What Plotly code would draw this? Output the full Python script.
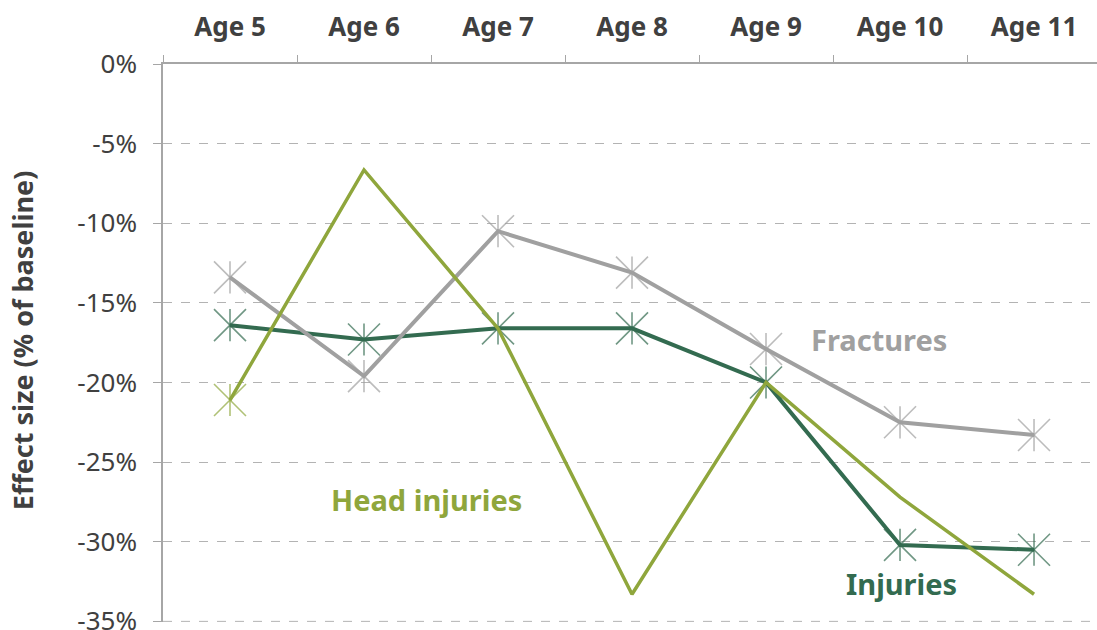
import plotly.graph_objects as go

ages = ["Age 5", "Age 6", "Age 7", "Age 8", "Age 9", "Age 10", "Age 11"]
injuries = [-16.4, -17.3, -16.6, -16.6, -20.0, -30.2, -30.5]
fractures = [-13.4, -19.6, -10.5, -13.1, -17.9, -22.5, -23.3]
head_injuries = [-21.1, -6.65, -16.6, -33.3, -20.0, -27.2, -33.3]
head_marker_shown = [True, False, False, False, False, False, False]

y_ticks = [0, -5, -10, -15, -20, -25, -30, -35]
y_ticktext = ["0%", "-5%", "-10%", "-15%", "-20%", "-25%", "-30%", "-35%"]

C_INJ = "#336b50"
C_FRAC = "#a0a0a0"
C_HEAD = "#8fa63c"
TXT = "#404040"
FONT = "Noto Sans"

fig = go.Figure()


def add_series(y, color, width, marker_mask=None):
    mask = marker_mask if marker_mask is not None else [True] * len(y)
    sz_x = [32 if m else 0 for m in mask]
    sz_v = [23 if m else 0 for m in mask]
    fig.add_trace(go.Scatter(
        x=ages, y=y, mode="lines+markers",
        line=dict(color=color, width=width),
        marker=dict(symbol="x-thin-open", size=sz_x, color=color,
                    line=dict(width=1.6, color=color)),
        hoverinfo="skip", showlegend=False))
    fig.add_trace(go.Scatter(
        x=ages, y=y, mode="markers",
        marker=dict(symbol="line-ns-open", size=sz_v, color=color,
                    line=dict(width=1.6, color=color)),
        hoverinfo="skip", showlegend=False))


add_series(injuries, C_INJ, 4)
add_series(fractures, C_FRAC, 4)
add_series(head_injuries, C_HEAD, 3.5, head_marker_shown)

fig.add_annotation(x=1.47, y=-27.35, text="<b>Head injuries</b>", showarrow=False,
                   font=dict(family=FONT, size=29, color=C_HEAD))
fig.add_annotation(x=4.84, y=-17.3, text="<b>Fractures</b>", showarrow=False,
                   font=dict(family=FONT, size=29, color=C_FRAC))
fig.add_annotation(x=5.01, y=-32.6, text="<b>Injuries</b>", showarrow=False,
                   font=dict(family=FONT, size=29, color=C_INJ))
fig.add_annotation(xref="paper", yref="paper", x=-(163 - 22) / 934, y=0.505,
                   text="<b>Effect size (% of baseline)</b>", textangle=-90,
                   showarrow=False, xanchor="center", yanchor="middle",
                   font=dict(family=FONT, size=27, color=TXT))

# bottom gridline (lowest tick) which plotly omits at the plot edge
fig.add_shape(type="line", xref="paper", yref="y", x0=0, x1=1,
              y0=y_ticks[-1], y1=y_ticks[-1], layer="below",
              line=dict(color="#b3b3b3", width=1, dash="dash"))

fig.update_layout(
    width=1097, height=630,
    margin=dict(l=163, r=0, t=64, b=8, autoexpand=False),
    paper_bgcolor="white", plot_bgcolor="white",
    font=dict(family=FONT, color=TXT),
    xaxis=dict(
        type="category", side="top", range=[-0.5, 6.47],
        showline=True, linecolor="#a6a6a6", linewidth=1.5,
        ticks="outside", tickson="boundaries", ticklen=7, tickcolor="#a6a6a6",
        ticklabelstandoff=16,
        showgrid=False, zeroline=False,
        tickfont=dict(family=FONT, size=26, color=TXT),
        tickprefix="<b>", ticksuffix="</b>",
    ),
    yaxis=dict(
        range=[-35.04, 0], tickvals=y_ticks, ticktext=y_ticktext,
        showline=True, linecolor="#a6a6a6", linewidth=1.5,
        ticks="outside", ticklen=8, tickcolor="#a6a6a6",
        ticklabelstandoff=11, ticklabeloverflow="allow",
        showgrid=True, gridcolor="#b3b3b3", griddash="dash", gridwidth=1,
        zeroline=False,
        tickfont=dict(family=FONT, size=26, color=TXT),
    ),
)

fig.write_html("out.html", config={"displayModeBar": False},
               post_script="document.body.style.margin='0';document.body.style.overflow='hidden';")
